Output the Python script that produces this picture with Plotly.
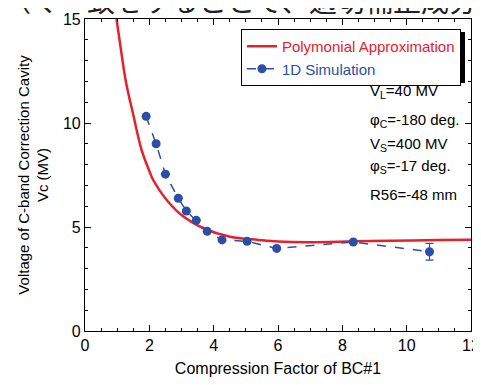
import plotly.graph_objects as go

# Polynomial approximation curve
fit_x = [0.98, 1.11, 1.27, 1.5, 1.76, 2.0, 2.12, 2.54, 3.06, 3.68, 4.51, 5.39, 6.0, 7.0, 8.34, 9.5, 11.0, 12.0]
fit_y = [15.0, 13.6, 12.0, 10.4, 8.7, 7.7, 7.26, 6.3, 5.5, 4.94, 4.53, 4.38, 4.30, 4.27, 4.31, 4.34, 4.37, 4.39]

# 1D simulation points
sim_x = [1.90, 2.21, 2.50, 2.90, 3.15, 3.46, 3.80, 4.26, 5.04, 5.96, 8.34, 10.71]
sim_y = [10.32, 9.0, 7.54, 6.38, 5.77, 5.32, 4.79, 4.38, 4.31, 3.97, 4.28, 3.81]
sim_err = [0, 0, 0, 0, 0, 0, 0, 0, 0, 0, 0, 0.4]

x_ticks = [0, 2, 4, 6, 8, 10, 12]
y_ticks = [0, 5, 10, 15]

RED = "#e8202a"
BLUE = "#2a4fa8"
FONT = "Liberation Sans, Arial, sans-serif"

fig = go.Figure()
fig.add_trace(go.Scatter(
    x=fit_x, y=fit_y, mode="lines",
    name=f"<span style='color:{RED}'>Polymonial Approximation</span>",
    line=dict(color=RED, width=2.5, shape="spline"),
))
fig.add_trace(go.Scatter(
    x=sim_x, y=sim_y, mode="lines+markers",
    name=f"<span style='color:{BLUE}'>1D Simulation</span>",
    line=dict(color=BLUE, width=1.5, dash="dash"),
    marker=dict(color=BLUE, size=9),
    error_y=dict(type="data", array=sim_err, color=BLUE, thickness=1.2, width=4, visible=True),
))

axis_common = dict(
    showline=True, linecolor="black", linewidth=1.2, mirror="ticks",
    ticks="inside", ticklen=6, tickcolor="black", tickwidth=1,
    showgrid=False, zeroline=False, automargin=False,
    tickfont=dict(size=16, color="black", family=FONT),
)

# page body has an 8px margin: size the figure so the page does not scroll,
# and place the plot area at 85..471 x 19..331 of the window
fig.update_layout(
    width=473, height=369,
    margin=dict(l=77, r=10, t=11, b=46),
    paper_bgcolor="white", plot_bgcolor="white",
    font=dict(family=FONT, color="black"),
    showlegend=True,
    legend=dict(
        x=0.404, y=0.968, xanchor="left", yanchor="top",
        bgcolor="white", bordercolor="black", borderwidth=1,
        font=dict(size=15, family=FONT), itemwidth=30,
    ),
    xaxis=dict(
        range=[0, 12], tickvals=x_ticks, ticktext=[str(v) for v in x_ticks],
        minor=dict(dtick=0.5, ticks="inside", ticklen=3, tickcolor="black", showgrid=False),
        title=dict(text="Compression Factor of BC#1", font=dict(size=16, family=FONT), standoff=13),
        **axis_common,
    ),
    yaxis=dict(
        range=[0, 15], tickvals=y_ticks, ticktext=[str(v) for v in y_ticks],
        minor=dict(dtick=1, ticks="inside", ticklen=3, tickcolor="black", showgrid=False),
        title=dict(text="Voltage of C-band Correction Cavity<br>Vc (MV)", font=dict(size=15, family=FONT), standoff=10),
        **axis_common,
    ),
)

# legend shadow
fig.add_shape(type="rect", xref="paper", yref="paper",
              x0=(246 - 85) / 386, x1=(465 - 85) / 386,
              y0=(331 - 83) / 312, y1=(331 - 32) / 312,
              fillcolor="black", line=dict(width=0), layer="above")

params = [
    "V<sub>L</sub>=40 MV",
    "φ<sub>C</sub>=-180 deg.",
    "V<sub>S</sub>=400 MV",
    "φ<sub>S</sub>=-17 deg.",
    "R56=-48 mm",
]
ys = [0.769, 0.676, 0.599, 0.526, 0.439]
for t, yy in zip(params, ys):
    fig.add_annotation(text=t, xref="paper", yref="paper", x=0.733, y=yy,
                       xanchor="left", yanchor="middle", showarrow=False,
                       font=dict(size=15, family=FONT, color="black"))

# clipped Japanese caption at very top (kept inside the window width)
fig.add_annotation(text="（く一致をすることで、適切補正成分", xref="paper", yref="paper",
                   x=(479 - 85) / 386, y=1.0, xanchor="right", yanchor="bottom", yshift=-3,
                   showarrow=False,
                   font=dict(size=28, family="Noto Sans CJK JP", color="#222"))

fig.write_html("out.html")
